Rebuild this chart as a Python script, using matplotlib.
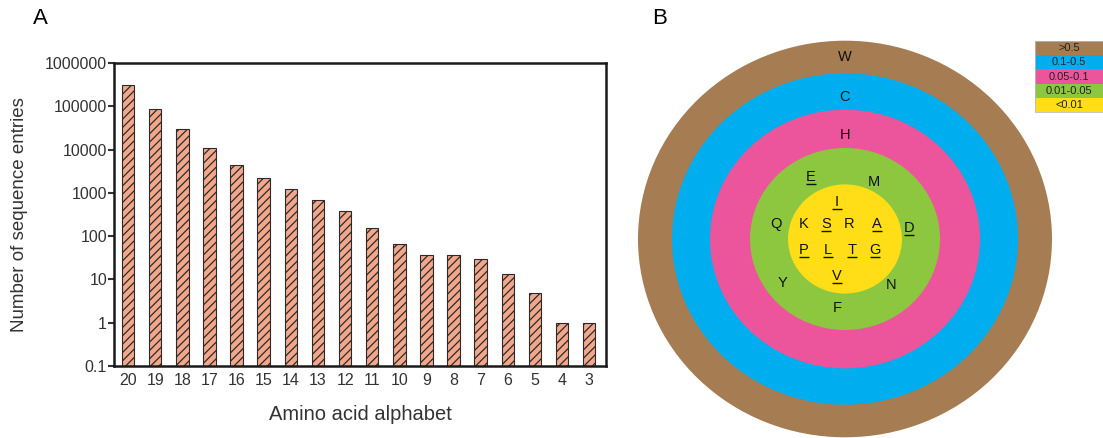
"""Alphabet size vs. sequence entries (A) and residue frequency rings (B)."""

import matplotlib.pyplot as plt
from matplotlib.patches import Ellipse, Rectangle

plt.rcParams["font.family"] = ["Liberation Sans", "DejaVu Sans"]
plt.rcParams["hatch.linewidth"] = 0.9

# panel A data
alphabet_sizes = [20, 19, 18, 17, 16, 15, 14, 13, 12, 11, 10, 9, 8, 7, 6, 5, 4, 3]
entry_counts = [310000, 85000, 30000, 11000, 4500, 2200, 1250, 680, 380,
                155, 65, 36, 37, 30, 13, 4.8, 1, 1]
y_ticks = [0.1, 1, 10, 100, 1000, 10000, 100000, 1000000]
y_tick_labels = ["0.1", "1", "10", "100", "1000", "10000", "100000", "1000000"]

# panel B data: frequency classes from outside in, and the residues in each
freq_classes = [">0.5", "0.1-0.5", "0.05-0.1", "0.01-0.05", "<0.01"]
class_colors = ["#A67C52", "#00AEEF", "#EC559B", "#8DC63F", "#FFDD17"]
class_residues = [
    ["W"],
    ["C"],
    ["H"],
    ["E", "M", "Q", "D", "Y", "N", "F"],
    ["I", "K", "S", "R", "A", "P", "L", "T", "G", "V"],
]
underlined = ["E", "D", "I", "S", "A", "P", "L", "T", "G", "V"]

fig = plt.figure(figsize=(11.03, 4.38), dpi=100)
W, H = 1103, 438

# ---- panel A ----
ax = fig.add_axes([114 / W, 1 - 366 / H, (606 - 114) / W, (366 - 63) / H])
xs = list(range(len(alphabet_sizes)))
ax.bar(xs, entry_counts, width=0.46, color="#F2A78B", edgecolor="#2a2a2a",
       linewidth=0.8, hatch="////", zorder=2)
ax.set_yscale("log")
ax.set_ylim(0.1, 1e6)
ax.set_xlim(-0.52, len(xs) - 0.38)
ax.set_yticks(y_ticks)
ax.set_yticklabels(y_tick_labels)
ax.minorticks_off()
ax.set_xticks(xs)
ax.set_xticklabels([str(a) for a in alphabet_sizes])
ax.tick_params(axis="y", direction="out", length=4, width=1.5, labelsize=11.5,
               pad=1, colors="#333333")
ax.tick_params(axis="x", length=0, labelsize=11.5, pad=5, colors="#333333")
for s in ax.spines.values():
    s.set_linewidth(1.8)
    s.set_color("#1a1a1a")
ax.set_xlabel("Amino acid alphabet", fontsize=14.5, color="#333333", labelpad=12)
ax.set_ylabel("Number of sequence entries", fontsize=13.5, color="#333333",
              labelpad=12)
fig.text(33 / W, 1 - 19 / H, "A", fontsize=16, va="center", ha="left")

# ---- panel B ----
bx = fig.add_axes([620 / W, 0, (W - 620) / W, 1])
bx.set_xlim(620, W)
bx.set_ylim(H, 0)
bx.axis("off")

cx, cy = 845, 239
radii = [207, 173, 135, 95, 57]
y_scale = 0.958
for r, c in zip(radii, class_colors):
    bx.add_patch(Ellipse((cx, cy), 2 * r, 2 * r * y_scale, facecolor=c,
                         edgecolor="none"))

letter_pos = {
    "W": (845, 57), "C": (845, 97), "H": (845, 135),
    "E": (811, 177), "M": (874, 182), "Q": (776, 224), "D": (909, 228),
    "Y": (783, 283), "N": (891, 285), "F": (837, 308),
    "I": (837, 202), "K": (804, 224), "S": (826, 224), "R": (849, 224),
    "A": (877, 224), "P": (804, 250), "L": (828, 250), "T": (852, 250),
    "G": (875, 250), "V": (837, 276),
}
for group in class_residues:
    for res in group:
        x, y = letter_pos[res]
        bx.text(x, y, res, fontsize=10.5, ha="center", va="center",
                color="#111111")
        if res in underlined:
            bx.plot([x - 5, x + 5], [y + 7, y + 7], color="#111111", lw=1.0,
                    solid_capstyle="butt")

# legend boxes
lx, ly, lw, lh = 1035, 41, 72, 14.2
for i, (lab, c) in enumerate(zip(freq_classes, class_colors)):
    y0 = ly + i * lh
    bx.add_patch(Rectangle((lx, y0), lw, lh, facecolor=c, edgecolor="none",
                           clip_on=False))
    bx.text(lx + 34, y0 + lh / 2, lab, fontsize=8, ha="center", va="center",
            color="#222222")
bx.add_patch(Rectangle((lx, ly), lw, lh * len(freq_classes), facecolor="none",
                       edgecolor="#bbbbbb", lw=0.6, clip_on=False))

fig.text(652 / W, 1 - 19 / H, "B", fontsize=16, va="center", ha="left")

fig.savefig("out.png", dpi=100)
